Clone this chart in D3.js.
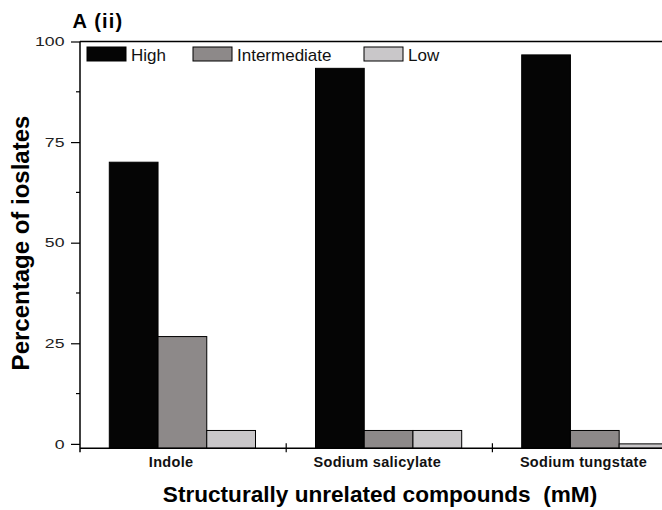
<!DOCTYPE html>
<html>
<head>
<meta charset="utf-8">
<script src="https://cdn.jsdelivr.net/npm/d3@7/dist/d3.min.js"></script>
<style>
  html, body { margin: 0; padding: 0; background: #fff; }
  svg { display: block; font-family: Arial, "Liberation Sans", sans-serif; }
</style>
</head>
<body>
<svg id="chart" width="662" height="510"></svg>
<script>
// Share of isolates per resistance level for each compound
const categories = ["Indole", "Sodium salicylate", "Sodium tungstate"];
const series = ["High", "Intermediate", "Low"];
const highValues = [70.0, 93.33, 96.67];
const intermediateValues = [26.67, 3.33, 3.33];
const lowValues = [3.33, 3.33, 0];
const yTicks = [0, 25, 50, 75, 100];
const yMinorTicks = [12.5, 37.5, 62.5, 87.5];
const colors = { High: "#050505", Intermediate: "#8d8989", Low: "#c9c7c9" };

const valuesBySeries = { High: highValues, Intermediate: intermediateValues, Low: lowValues };
const rows = categories.map((c, i) => ({
  category: c,
  values: series.map(s => ({ key: s, value: valuesBySeries[s][i] }))
}));

const svg = d3.select("#chart");
const plotLeft = 80, plotTop = 41.5, plotBottom = 448.3, bandW = 206.2;
const plotRight = plotLeft + bandW * categories.length;

const x0 = d3.scaleBand().domain(categories).range([plotLeft, plotRight]).padding(0);
const x1 = d3.scaleBand().domain(series).range([29.3, 175.5]).padding(0);
const y = d3.scaleLinear().domain([-1.1, 100]).range([plotBottom, plotTop]);

// Bars, drawn up from the axis floor
const groups = svg.append("g").selectAll("g").data(rows).join("g")
  .attr("transform", d => `translate(${x0(d.category)},0)`);
groups.selectAll("rect").data(d => d.values).join("rect")
  .attr("x", d => x1(d.key))
  .attr("y", d => y(d.value))
  .attr("width", x1.bandwidth())
  .attr("height", d => y.range()[0] - y(d.value))
  .attr("fill", d => colors[d.key])
  .attr("stroke", "#000")
  .attr("stroke-width", 1);

// Frame: top line and right edge
svg.append("line").attr("x1", plotLeft).attr("x2", plotRight).attr("y1", plotTop).attr("y2", plotTop)
  .attr("stroke", "#000").attr("stroke-width", 1.5);
svg.append("line").attr("x1", plotRight).attr("x2", plotRight).attr("y1", plotTop).attr("y2", plotBottom)
  .attr("stroke", "#000").attr("stroke-width", 1.5);

// Y axis with major and minor ticks
const yAxis = svg.append("g").attr("transform", `translate(${plotLeft},0)`)
  .call(d3.axisLeft(y).tickValues(yTicks).tickSize(9).tickPadding(5).tickSizeOuter(0));
yAxis.select(".domain").attr("d", `M0,${plotTop}V${plotBottom + 4}`).attr("stroke-width", 1.5);
yAxis.selectAll(".tick line").attr("stroke-width", 1.2);
yAxis.selectAll(".tick text")
  .attr("font-size", 13)
  .attr("fill", "#222")
  .attr("font-family", "Arial, 'Liberation Sans', sans-serif")
  .attr("transform", "scale(1.36,1)")
  .attr("x", -15.5 / 1.36);
svg.append("g").selectAll("line").data(yMinorTicks).join("line")
  .attr("x1", plotLeft - 4).attr("x2", plotLeft)
  .attr("y1", d => y(d)).attr("y2", d => y(d))
  .attr("stroke", "#000").attr("stroke-width", 1.2);

// X axis: baseline, category boundary ticks, labels
svg.append("line").attr("x1", plotLeft).attr("x2", plotRight).attr("y1", plotBottom).attr("y2", plotBottom)
  .attr("stroke", "#000").attr("stroke-width", 1.5);
const boundaries = categories.map(c => x0(c)).concat([plotRight]);
svg.append("g").selectAll("line").data(boundaries.slice(1)).join("line")
  .attr("x1", d => d).attr("x2", d => d)
  .attr("y1", plotBottom - 5).attr("y2", plotBottom + 4)
  .attr("stroke", "#000").attr("stroke-width", 1.2);
svg.append("g").selectAll("text").data(categories).join("text")
  .attr("x", d => x0(d) + x0.bandwidth() / 2 - 12)
  .attr("y", 466.5)
  .attr("text-anchor", "middle")
  .attr("font-size", 14.5)
  .attr("font-weight", "bold")
  .attr("letter-spacing", 0.3)
  .attr("fill", "#111")
  .text(d => d);

// Axis titles
svg.append("text")
  .attr("x", 380).attr("y", 501.5)
  .attr("text-anchor", "middle")
  .attr("font-size", 22.6).attr("font-weight", "bold")
  .attr("fill", "#000")
  .attr("xml:space", "preserve")
  .text("Structurally unrelated compounds  (mM)");
svg.append("text")
  .attr("transform", "translate(29,243) rotate(-90)")
  .attr("text-anchor", "middle")
  .attr("font-size", 24).attr("font-weight", "bold")
  .attr("fill", "#000")
  .text("Percentage of ioslates");

// Panel title
svg.append("text")
  .attr("x", 72.5).attr("y", 28)
  .attr("font-size", 20).attr("font-weight", "bold")
  .attr("letter-spacing", 1.2)
  .attr("fill", "#000")
  .text("A (ii)");

// Legend
const legendX = { High: 87, Intermediate: 193, Low: 364 };
const legend = svg.append("g").selectAll("g").data(series).join("g")
  .attr("transform", d => `translate(${legendX[d]},47)`);
legend.append("rect")
  .attr("width", 39).attr("height", 14)
  .attr("fill", d => colors[d]).attr("stroke", "#000").attr("stroke-width", 1);
legend.append("text")
  .attr("x", 44).attr("y", 13.5)
  .attr("font-size", 17)
  .attr("fill", "#111")
  .text(d => d);
</script>
</body>
</html>
